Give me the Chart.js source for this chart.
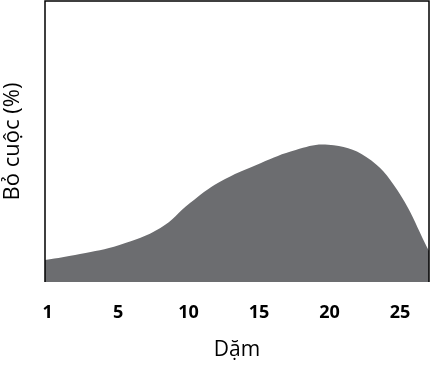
<!DOCTYPE html>
<html>
<head>
<meta charset="utf-8">
<script src="https://cdn.jsdelivr.net/npm/chart.js@4"></script>
<style>
  html, body { margin: 0; padding: 0; background: #fff; }
  #wrap { width: 432px; height: 383px; }
</style>
</head>
<body>
<div id="wrap"><canvas id="dropChart"></canvas></div>
<script>
// ── Data ─────────────────────────────────────────────────────────────────────
const miles   = [-0.18, 2.3, 5.1, 8.0, 10.1, 12.2, 15.1, 17.6, 19.9, 22.6, 24.8, 27.05];
const dropout = [7.8, 10.0, 13.2, 19.2, 28.1, 35.6, 42.3, 47.0, 48.8, 44.5, 32.7, 11.0];
const tickValues = [0, 5, 10, 15, 20, 25];
const tickLabels = ['1', '5', '10', '15', '20', '25'];

// frame on left / top / right of the plot
const framePlugin = {
  id: 'frame',
  afterDatasetsDraw(chart) {
    const { ctx, chartArea: a } = chart;
    ctx.save();
    ctx.strokeStyle = '#000';
    ctx.lineWidth = 1.5;
    ctx.beginPath();
    ctx.moveTo(a.left, a.bottom);
    ctx.lineTo(a.left, a.top);
    ctx.lineTo(a.right, a.top);
    ctx.lineTo(a.right, a.bottom);
    ctx.stroke();
    ctx.restore();
  }
};

new Chart(document.getElementById('dropChart'), {
  type: 'line',
  data: {
    datasets: [{
      data: miles.map((m, i) => ({ x: m, y: dropout[i] })),
      backgroundColor: '#6c6d70',
      borderWidth: 0,
      fill: 'origin',
      pointRadius: 0,
      tension: 0.4
    }]
  },
  options: {
    responsive: true,
    maintainAspectRatio: false,
    animation: false,
    layout: { padding: { top: 1, right: 3, bottom: 0, left: 0 } },
    plugins: { legend: { display: false }, tooltip: { enabled: false } },
    scales: {
      x: {
        type: 'linear',
        min: miles[0],
        max: miles[miles.length - 1],
        afterBuildTicks: (s) => { s.ticks = tickValues.map(v => ({ value: v })); },
        afterFit: (s) => { s.height = 101; },
        grid: { display: false, drawTicks: false },
        border: { display: false },
        ticks: {
          padding: 20,
          color: '#000',
          maxRotation: 0,
          font: { family: 'Open Sans', size: 18, weight: 'bold' },
          callback: (v) => tickLabels[tickValues.indexOf(v)]
        },
        title: {
          display: true,
          text: 'Dặm',
          color: '#000',
          padding: { top: 0, bottom: 20 },
          font: { family: 'Open Sans', size: 21 }
        }
      },
      y: {
        min: 0,
        max: 100,
        afterFit: (s) => { s.width = 45; },
        grid: { display: false, drawTicks: false },
        border: { display: false },
        ticks: { display: false },
        title: {
          display: true,
          text: 'Bỏ cuộc (%)',
          color: '#000',
          padding: { top: 0, bottom: 0 },
          font: { family: 'Open Sans', size: 22 }
        }
      }
    }
  },
  plugins: [framePlugin]
});
</script>
</body>
</html>
